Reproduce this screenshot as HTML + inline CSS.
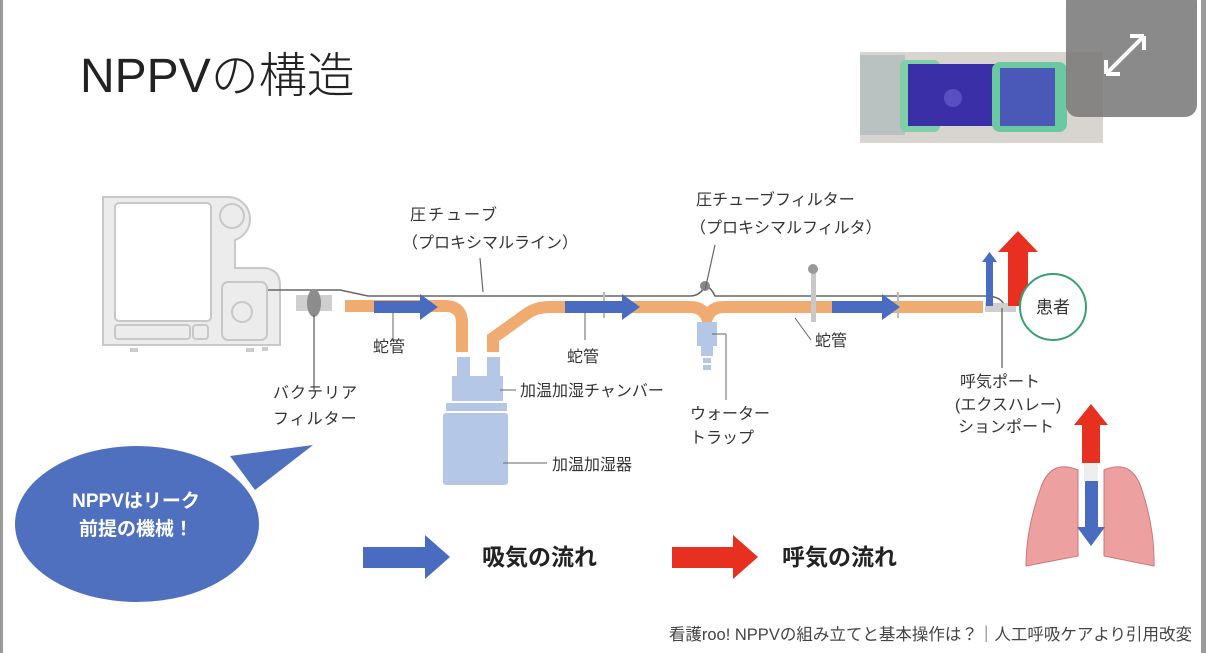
<!DOCTYPE html>
<html><head><meta charset="utf-8"><style>
html,body{margin:0;padding:0;background:#fff;}
svg{display:block;font-family:"Liberation Sans","Noto Sans CJK JP",sans-serif;}
</style></head><body>
<svg width="1206" height="653" viewBox="0 0 1206 653" xmlns="http://www.w3.org/2000/svg">
<rect x="0" y="0" width="1206" height="653" fill="#fff"/>
<rect x="0" y="0" width="3" height="653" fill="#9a9a9a"/>
<rect x="1201" y="0" width="5" height="653" fill="#9a9a9a"/>
<text x="80" y="92" font-size="48" fill="#222" font-weight="300">NPPVの構造</text>
<!-- photo -->
<rect x="860" y="52" width="243" height="91" fill="#d8d4cf"/>
<rect x="860" y="55" width="45" height="80" fill="#b9c2c0"/>
<rect x="900" y="60" width="40" height="72" rx="6" fill="#7fcfa8"/>
<rect x="908" y="64" width="90" height="62" fill="#3b2fa8"/>
<circle cx="953" cy="98" r="9" fill="#5a4fc0"/>
<rect x="992" y="62" width="75" height="70" rx="8" fill="#6ac9a0"/>
<rect x="1000" y="68" width="55" height="58" fill="#4a58b8"/>
<!-- overlay -->
<rect x="1066" y="-10" width="131" height="127" rx="12" fill="#7a7a7a" opacity="0.88"/>
<path d="M1106 74 L1144 36 M1106 74 l0 -14 M1106 74 l14 0 M1144 36 l-14 0 M1144 36 l0 14" stroke="#fff" stroke-width="4" fill="none"/>
<!-- ventilator -->
<g fill="#ececec" stroke="#c8c8c8" stroke-width="2">
<path d="M103 197 H228 A22 22 0 0 1 250 219 A22 22 0 0 1 235 240 V268 H265 Q280 270 280 285 V345 H103 Z"/>
<rect x="115" y="203" width="96" height="118" rx="4" fill="#fff"/>
<rect x="115" y="325" width="75" height="14" rx="3"/>
<rect x="193" y="325" width="15" height="14" rx="3"/>
<circle cx="232" cy="216" r="12"/>
<rect x="222" y="282" width="45" height="58" rx="6"/>
<circle cx="242" cy="312" r="10"/>
</g>
<rect x="130" y="348" width="8" height="4" fill="#ccc"/><rect x="246" y="348" width="8" height="4" fill="#ccc"/><rect x="262" y="347" width="6" height="4" fill="#ccc"/>
<!-- pressure line -->
<path d="M268 290 H340 L368 296 H690 Q700 296 705 286 Q710 286 715 296 H985 Q1003 296 1005 308" fill="none" stroke="#666" stroke-width="1.6"/>
<!-- bacterial filter -->
<rect x="296" y="295" width="36" height="16" fill="#cfcfcf"/>
<ellipse cx="314" cy="303" rx="7" ry="14" fill="#8c8c8c"/>
<line x1="314" y1="315" x2="314" y2="390" stroke="#666" stroke-width="1.3"/>
<!-- tubes -->
<g fill="none" stroke="#f0ac70" stroke-width="12">
<path d="M345 306 H445 Q462 306 462 323 V352"/>
<path d="M493 352 V338 L525 315 Q535 307 550 307 H690 Q703 307 707 318 Q711 307 724 307 H983"/>
</g>
<rect x="603" y="292" width="2" height="26" fill="#bbb"/>
<rect x="897" y="292" width="2" height="26" fill="#bbb"/>
<rect x="811" y="272" width="5" height="50" fill="#c8c8c8"/><circle cx="813" cy="269" r="5" fill="#999"/>
<circle cx="705" cy="286" r="5" fill="#888"/>
<line x1="705" y1="290" x2="715" y2="245" stroke="#666" stroke-width="1.2"/>
<line x1="483" y1="292" x2="480" y2="258" stroke="#666" stroke-width="1.2"/>
<rect x="985" y="303" width="31" height="9" fill="#cfcfcf"/>
<line x1="1002" y1="308" x2="1002" y2="368" stroke="#666" stroke-width="1.3"/>
<!-- water trap -->
<g fill="#b4c7e7"><rect x="697" y="322" width="20" height="24"/><rect x="701" y="346" width="12" height="10"/><rect x="703" y="358" width="8" height="5"/><rect x="703" y="365" width="8" height="5"/></g>
<line x1="712" y1="334" x2="726" y2="334" stroke="#666"/><line x1="726" y1="334" x2="726" y2="400" stroke="#666"/>
<!-- humidifier -->
<g fill="#b4c7e7">
<rect x="457" y="357" width="13" height="20"/><rect x="487" y="357" width="13" height="20"/>
<rect x="452" y="376" width="51" height="25"/>
<rect x="446" y="403" width="61" height="8"/>
<rect x="443" y="413" width="65" height="72" rx="3"/>
</g>
<line x1="500" y1="390" x2="516" y2="390" stroke="#666"/>
<line x1="503" y1="463" x2="547" y2="463" stroke="#666"/>
<line x1="393" y1="313" x2="393" y2="340" stroke="#666"/>
<line x1="585" y1="313" x2="585" y2="340" stroke="#666"/>
<line x1="795" y1="318" x2="811" y2="340" stroke="#666"/>
<!-- flow arrows -->
<g fill="#4a6cc0">
<path d="M374 301 H420 V294 L438 307 L420 320 V313 H374 Z"/>
<path d="M565 301 H622 V294 L640 307 L622 320 V313 H565 Z"/>
<path d="M832 301 H882 V294 L900 307 L882 320 V313 H832 Z"/>
<path d="M986 306 V262 H982 L989.5 252 L997 262 H993 V306 Z"/>
</g>
<path d="M1008 306 V252 H998 L1018 231 L1038 252 H1028 V306 Z" fill="#e83020"/>
<circle cx="1053" cy="307" r="33" fill="#fff" stroke="#3aa070" stroke-width="2"/>
<text x="1053" y="313" font-size="17" text-anchor="middle" fill="#333">患者</text>
<!-- labels -->
<g font-size="16" fill="#333">
<text x="410" y="220" letter-spacing="2">圧チューブ</text>
<text x="402" y="248">（プロキシマルライン）</text>
<text x="696" y="205">圧チューブフィルター</text>
<text x="690" y="233">（プロキシマルフィルタ）</text>
<text x="373" y="352">蛇管</text>
<text x="567" y="362">蛇管</text>
<text x="815" y="346">蛇管</text>
<text x="273" y="398" letter-spacing="1">バクテリア</text>
<text x="273" y="424" letter-spacing="1">フィルター</text>
<text x="520" y="396">加温加湿チャンバー</text>
<text x="552" y="470">加温加湿器</text>
<text x="690" y="419">ウォーター</text>
<text x="690" y="443">トラップ</text>
<text x="960" y="387">呼気ポート</text>
<text x="955" y="410">(エクスハレー)</text>
<text x="958" y="432">ションポート</text>
</g>
<!-- bubble -->
<path d="M230 456 L313 445 L255 490 Z" fill="#4f6fbf"/>
<ellipse cx="137" cy="524" rx="122" ry="78" fill="#4f6fbf"/>
<text x="136" y="507" font-size="19" font-weight="bold" fill="#fff" text-anchor="middle">NPPVはリーク</text>
<text x="136" y="535" font-size="19" font-weight="bold" fill="#fff" text-anchor="middle">前提の機械！</text>
<!-- legend -->
<path d="M363 547 H425 V535 L450 557 L425 579 V568 H363 Z" fill="#4a6cc0"/>
<text x="482" y="565" font-size="23" font-weight="bold" fill="#222">吸気の流れ</text>
<path d="M672 547 H733 V535 L758 557 L733 579 V568 H672 Z" fill="#e83020"/>
<text x="782" y="565" font-size="23" font-weight="bold" fill="#222">呼気の流れ</text>
<!-- lungs -->
<g fill="#eda0a0" stroke="#c77" stroke-width="1">
<path d="M1078 470 Q1050 458 1040 490 Q1026 530 1026 566 L1078 556 Z"/>
<path d="M1104 470 Q1132 458 1142 490 Q1155 530 1154 566 L1104 556 Z"/>
</g>
<rect x="1084" y="462" width="14" height="20" fill="#eee"/>
<path d="M1082 463 V425 H1074 L1091 404 L1108 425 H1100 V463 Z" fill="#e83020"/>
<path d="M1085 481 H1098 V527 H1105 L1091 546 L1077 527 H1085 Z" fill="#4a6cc0"/>
<text x="1192" y="640" font-size="16.5" fill="#444" text-anchor="end">看護roo! NPPVの組み立てと基本操作は？｜人工呼吸ケアより引用改変</text>
</svg>
</body></html>
